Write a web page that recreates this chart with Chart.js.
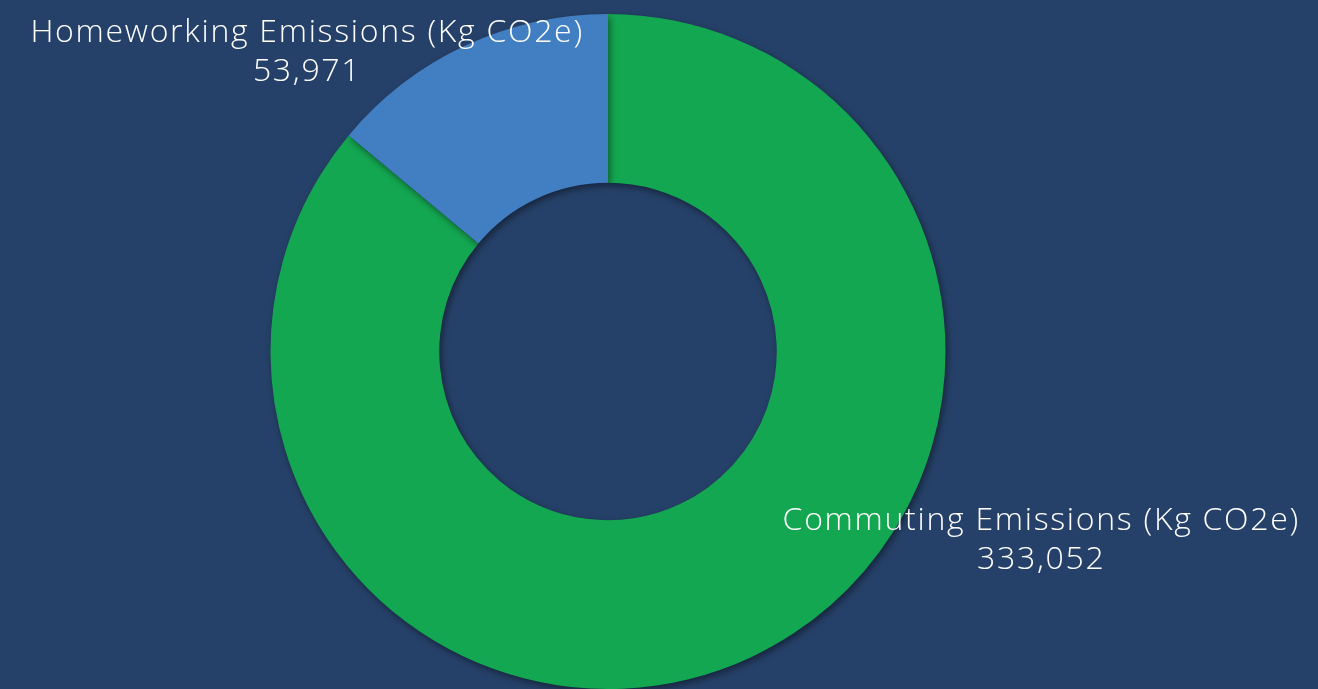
<!doctype html>
<html>

<head>
    <title>Emissions Doughnut</title>
    <script src="https://cdn.jsdelivr.net/npm/chart.js@4.4.0/dist/chart.umd.min.js"></script>
    <style>
        html, body { margin: 0; padding: 0; background: #264169; }
        #holder { width: 1318px; height: 689px; }
    </style>
</head>

<body>
    <div id="holder">
        <canvas id="chart-area"></canvas>
    </div>
    <script>
    var labels = ["Commuting Emissions (Kg CO2e)", "Homeworking Emissions (Kg CO2e)"];
    var values = [333052, 53971];
    var colors = ["#14a751", "#427fc2"];

    // where each data label sits, as fractions of the canvas
    var labelSpots = [[0.790, 0.785], [0.233, 0.0765]];

    var shadowPlugin = {
        id: 'shadow',
        beforeDatasetDraw: function(chart) {
            var ctx = chart.ctx;
            ctx.save();
            ctx.shadowColor = 'rgba(0,0,0,0.45)';
            ctx.shadowBlur = 7;
            ctx.shadowOffsetX = 2;
            ctx.shadowOffsetY = 3;
        },
        afterDatasetDraw: function(chart) {
            chart.ctx.restore();
        }
    };

    var labelPlugin = {
        id: 'sliceLabels',
        afterDatasetsDraw: function(chart) {
            var ctx = chart.ctx;
            ctx.save();
            ctx.fillStyle = '#ffffff';
            ctx.textAlign = 'center';
            ctx.textBaseline = 'middle';
            ctx.font = '300 32px "Open Sans"';
            ctx.letterSpacing = '1.7px';
            values.forEach(function(v, i) {
                var x = chart.width * labelSpots[i][0];
                var y = chart.height * labelSpots[i][1];
                ctx.fillText(labels[i], x, y - 19.5);
                ctx.fillText(v.toLocaleString('en-US'), x, y + 19.5);
            });
            ctx.restore();
        }
    };

    var config = {
        type: 'doughnut',
        data: {
            labels: labels,
            datasets: [{
                data: values,
                backgroundColor: colors,
                borderWidth: 0
            }]
        },
        options: {
            responsive: true,
            maintainAspectRatio: false,
            animation: false,
            cutout: '50%',
            layout: {
                padding: { top: 14, bottom: 0, left: 0, right: 102 }
            },
            plugins: {
                legend: { display: false },
                tooltip: { enabled: false }
            }
        },
        plugins: [shadowPlugin, labelPlugin]
    };

    window.onload = function() {
        var ctx = document.getElementById("chart-area").getContext("2d");
        window.myDoughnut = new Chart(ctx, config);
    };
    </script>
</body>

</html>
